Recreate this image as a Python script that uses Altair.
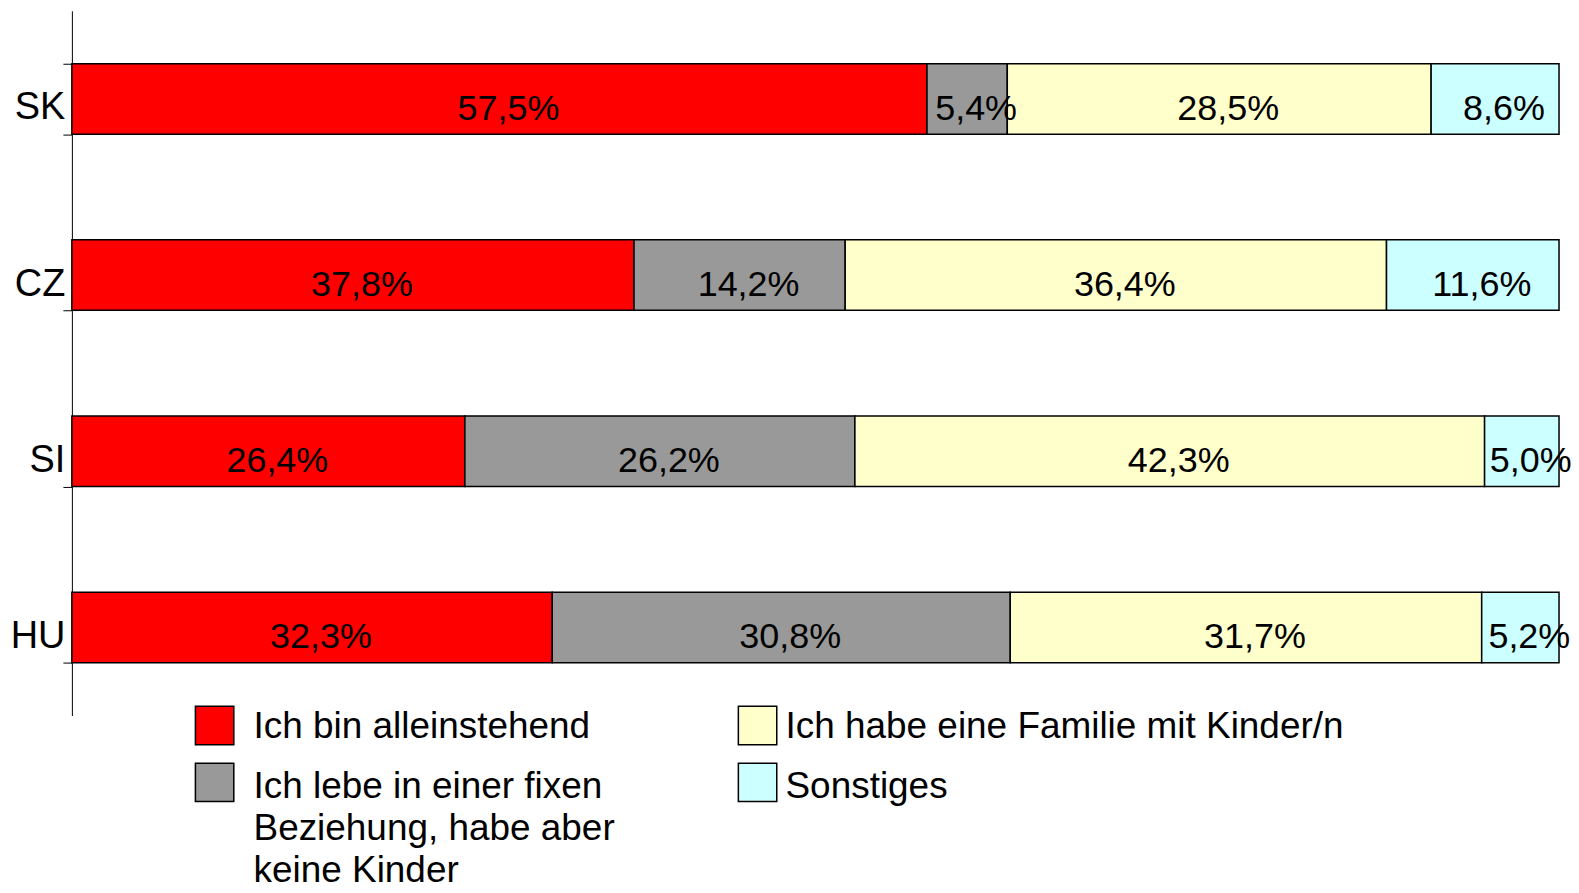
import altair as alt
import pandas as pd

countries = ["SK", "CZ", "SI", "HU"]
categories = [
    "Ich bin alleinstehend",
    "Ich lebe in einer fixen Beziehung, habe aber keine Kinder",
    "Ich habe eine Familie mit Kinder/n",
    "Sonstiges",
]
legend_labels = [
    "Ich bin alleinstehend",
    "Ich lebe in einer fixen\nBeziehung, habe aber\nkeine Kinder",
    "Ich habe eine Familie mit Kinder/n",
    "Sonstiges",
]
colors = ["#FF0000", "#999999", "#FFFFCC", "#CCFFFF"]

alleinstehend = [57.5, 37.8, 26.4, 32.3]
beziehung = [5.4, 14.2, 26.2, 30.8]
familie = [28.5, 36.4, 42.3, 31.7]
sonstiges = [8.6, 11.6, 5.0, 5.2]

legend_col = [0, 0, 1, 1]
legend_row = [0, 1, 0, 1]

series = [alleinstehend, beziehung, familie, sonstiges]
rows = []
for ci, c in enumerate(countries):
    for k, cat in enumerate(categories):
        rows.append({"country": c, "cat": cat, "idx": k, "v": series[k][ci]})
df = pd.DataFrame(rows)

leg_df = pd.DataFrame({
    "cat": categories,
    "label": legend_labels,
    "col": legend_col,
    "row": legend_row,
})

FONT = "Liberation Sans"

color = alt.Color("cat:N", scale=alt.Scale(domain=categories, range=colors), legend=None)
yscale = alt.Scale(domain=countries, paddingInner=0.6, paddingOuter=0.3)
yband = alt.Y(
    "country:N",
    sort=countries,
    scale=yscale,
    axis=alt.Axis(
        title=None,
        labelFontSize=38,
        labelFont=FONT,
        labelColor="black",
        labelPadding=-2,
        labelOffset=9,
        tickSize=9,
        tickBand="extent",
        domainColor="black",
        tickColor="black",
        domainWidth=1,
        tickWidth=1,
        grid=False,
    ),
)
xscale = alt.Scale(domain=[0, 1], nice=False, zero=True)

bars = alt.Chart(df).mark_bar(stroke="black", strokeWidth=1.5).encode(
    y=yband,
    x=alt.X("v:Q", stack="normalize", scale=xscale, axis=None),
    color=color,
    order=alt.Order("idx:Q"),
)

texts = (
    alt.Chart(df)
    .transform_joinaggregate(total="sum(v)", groupby=["country"])
    .transform_window(
        cum="sum(v)", sort=[alt.SortField("idx")], groupby=["country"], frame=[None, 0]
    )
    .transform_calculate(
        mid="(datum.cum - datum.v / 2) / datum.total",
        label="replace(format(datum.v, '.1f'), '.', ',') + '%'",
    )
    .mark_text(font=FONT, fontSize=36, color="black", dx=9, dy=10, baseline="middle", align="center")
    .encode(
        y=alt.Y("country:N", sort=countries, scale=yscale),
        x=alt.X("mid:Q", scale=xscale, axis=None),
        text="label:N",
    )
)

main = alt.layer(bars, texts)

leg_sq = alt.Chart(leg_df).mark_square(size=1480, stroke="black", strokeWidth=1.5, opacity=1).encode(
    x=alt.X("col:Q", scale=alt.Scale(domain=[0, 1], range=[143, 687], nice=False, zero=False), axis=None),
    y=alt.Y("row:Q", scale=alt.Scale(domain=[0, 1], range=[716, 773], nice=False, zero=False), axis=None),
    color=color,
)
leg_txt = alt.Chart(leg_df).mark_text(
    font=FONT, fontSize=37, color="black", align="left", baseline="alphabetic",
    lineBreak="\n", lineHeight=42,
).encode(
    x=alt.X("col:Q", scale=alt.Scale(domain=[0, 1], range=[182, 715], nice=False, zero=False), axis=None),
    y=alt.Y("row:Q", scale=alt.Scale(domain=[0, 1], range=[729, 789], nice=False, zero=False), axis=None),
    text="label:N",
)

legend = alt.layer(leg_sq, leg_txt).resolve_scale(x="independent", y="independent")

chart = (
    alt.layer(main, legend)
    .resolve_scale(x="independent", y="independent")
    .properties(
        width=1490,
        height=706,
        autosize=alt.AutoSizeParams(type="none"),
        padding={"left": 64, "top": 2, "right": 12, "bottom": 174},
    )
    .configure(font=FONT, view=alt.ViewConfig(stroke=None))
)

chart.save("out.html", embed_options={"renderer": "svg", "actions": False})
